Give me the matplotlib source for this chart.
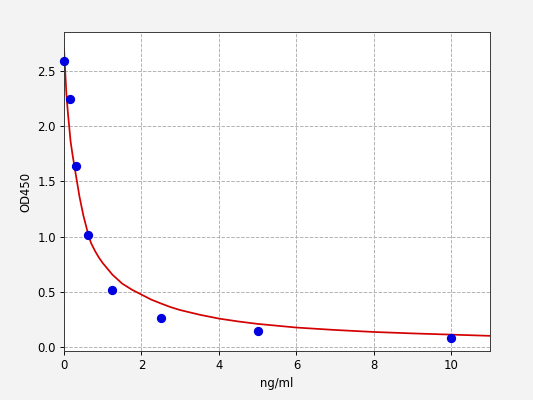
import numpy as np
import matplotlib
matplotlib.use('Agg')
from matplotlib import pyplot as plt

# standard points (concentration, OD)
conc = [0.0, 0.156, 0.3125, 0.625, 1.25, 2.5, 5.0, 10.0]
od = [2.59, 2.24, 1.64, 1.01, 0.52, 0.26, 0.143, 0.08]

# fitted curve
curve_x = [0.0, 0.03, 0.06, 0.1, 0.17, 0.22, 0.3, 0.4, 0.5, 0.64, 0.7, 0.8, 0.9,
           1.0, 1.25, 1.5, 1.75, 2.0, 2.25, 2.5, 2.75, 3.0, 3.5, 4.0, 4.5,
           5.0, 6.0, 7.0, 8.0, 9.0, 10.0, 11.0]
curve_y = [2.70, 2.50, 2.30, 2.12, 1.86, 1.74, 1.57, 1.36, 1.19, 1.00, 0.94, 0.87, 0.81,
           0.76, 0.655, 0.575, 0.52, 0.475, 0.43, 0.395, 0.362, 0.335, 0.293, 0.258, 0.232,
           0.21, 0.177, 0.155, 0.137, 0.124, 0.113, 0.102]

DPI = 83.34
fig = plt.figure(figsize=(6.4, 4.8), dpi=DPI, facecolor='#f3f3f3')
ax = fig.add_axes([0.120, 0.1225, 0.799, 0.7975])
ax.set_facecolor('white')

ax.plot(curve_x, curve_y, color='#d40000', linewidth=1.5, zorder=2)
ax.plot(conc, od, 'o', color='#0000e0', markersize=7, zorder=3, clip_on=False)

ax.set_xlim(0, 11)
ax.set_ylim(-0.035, 2.85)
ax.set_xticks([0, 2, 4, 6, 8, 10])
ax.set_yticks([0.0, 0.5, 1.0, 1.5, 2.0, 2.5])
ax.set_yticklabels(['0.0', '0.5', '1.0', '1.5', '2.0', '2.5'])
ax.grid(True, linestyle='--', color='#b0b0b0', linewidth=0.8)
ax.set_axisbelow(True)
for s in ax.spines.values():
    s.set_color('#333333')

ax.set_xlabel('ng/ml')
ax.set_ylabel('OD450')

plt.savefig('out.png', dpi=DPI, facecolor=fig.get_facecolor())
